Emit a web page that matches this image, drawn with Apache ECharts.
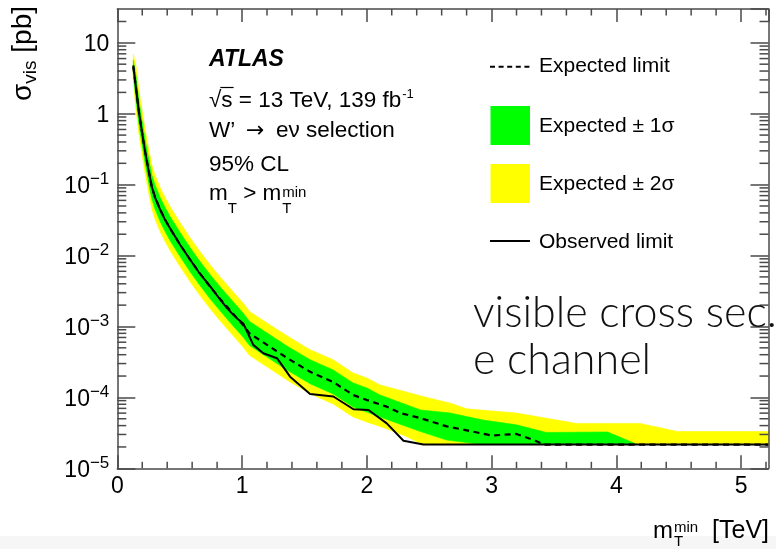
<!DOCTYPE html>
<html><head><meta charset="utf-8">
<script src="https://cdn.jsdelivr.net/npm/echarts@6/dist/echarts.min.js"></script>
<style>html,body{margin:0;padding:0;background:#fff;}#c{width:776px;height:549px;}</style>
</head><body><div id="c"></div>
<script>
// ---------------- data ----------------
const FLOOR = 2.16e-5;
const xRange = [0, 5.22];
const yRange = [1e-5, 30];
const xTickLabels = ['0', '1', '2', '3', '4', '5'];

const expectedX = [0.128, 0.15, 0.174, 0.198, 0.222, 0.246, 0.276, 0.302, 0.343, 0.383, 0.423, 0.503, 0.583, 0.663, 0.743, 0.824, 0.904, 1.008, 1.06, 1.2, 1.36, 1.545, 1.73, 1.89, 2.0, 2.16, 2.27, 2.43, 2.64, 2.83, 3.0, 3.2, 3.34, 3.42, 5.22];
const expectedY = [4.6, 2.3, 1.04, 0.55, 0.30, 0.177, 0.094, 0.067, 0.0446, 0.0322, 0.024, 0.0143, 0.00877, 0.00557, 0.00365, 0.00245, 0.00169, 0.00105, 0.0008, 0.00055, 0.00036, 0.00023, 0.000165, 0.000108, 9.2e-5, 7.4e-5, 6.0e-5, 5.1e-5, 3.9e-5, 3.35e-5, 2.9e-5, 3.05e-5, 2.5e-5, 2.16e-5, 2.16e-5];

const observedX = [0.128, 0.15, 0.174, 0.198, 0.222, 0.246, 0.276, 0.302, 0.343, 0.383, 0.423, 0.503, 0.583, 0.663, 0.743, 0.824, 0.87, 0.93, 0.96, 1.01, 1.09, 1.17, 1.28, 1.385, 1.545, 1.732, 1.893, 2.013, 2.16, 2.294, 2.454, 5.22];
const observedY = [4.8, 2.3, 1.04, 0.55, 0.30, 0.175, 0.094, 0.066, 0.0446, 0.0318, 0.0242, 0.0142, 0.0088, 0.0055, 0.0037, 0.0024, 0.0019, 0.00146, 0.0013, 0.0011, 0.00055, 0.00042, 0.000357, 0.000196, 0.000112, 0.000103, 6.8e-5, 6.65e-5, 4.3e-5, 2.45e-5, 2.16e-5, 2.16e-5];

const yellowUpper = [[0.128, 6.9], [0.15, 4.7], [0.174, 2.12], [0.198, 1.12], [0.222, 0.613], [0.246, 0.361], [0.276, 0.192], [0.302, 0.137], [0.343, 0.091], [0.383, 0.0658], [0.423, 0.049], [0.503, 0.0292], [0.583, 0.0179], [0.663, 0.01137], [0.743, 0.00745], [0.824, 0.0050], [0.904, 0.00345], [1.008, 0.00214], [1.06, 0.00163], [1.2, 0.00112], [1.36, 0.00074], [1.545, 0.00047], [1.73, 0.00034], [1.89, 0.00022], [2.0, 0.000188], [2.106, 0.00015], [2.45, 0.000103], [2.67, 8.3e-5], [2.8, 6.9e-5], [3.2, 6.0e-5], [3.68, 4.3e-5], [4.19, 4.3e-5], [4.49, 3.3e-5], [5.22, 3.3e-5]];
const yellowLower = [[0.128, 3.0], [0.15, 1.13], [0.174, 0.509], [0.198, 0.269], [0.222, 0.147], [0.246, 0.0867], [0.276, 0.046], [0.302, 0.0328], [0.343, 0.0218], [0.383, 0.0158], [0.423, 0.01175], [0.503, 0.0070], [0.583, 0.00429], [0.663, 0.00273], [0.743, 0.00179], [0.824, 0.0012], [0.904, 0.00083], [1.008, 0.000514], [1.06, 0.00039], [1.2, 0.00027], [1.36, 0.000176], [1.545, 0.000113], [1.73, 8.1e-5], [1.89, 5.3e-5], [2.0, 4.5e-5], [2.106, 3.9e-5], [2.3, 2.9e-5], [2.43, 2.25e-5], [2.5, 2.16e-5], [5.22, 2.16e-5]];
const greenUpper = [[0.128, 5.7], [0.15, 3.4], [0.174, 1.54], [0.198, 0.813], [0.222, 0.444], [0.246, 0.262], [0.276, 0.139], [0.302, 0.099], [0.343, 0.066], [0.383, 0.0476], [0.423, 0.0355], [0.503, 0.0212], [0.583, 0.013], [0.663, 0.00824], [0.743, 0.0054], [0.824, 0.00362], [0.904, 0.0025], [1.008, 0.00155], [1.06, 0.00118], [1.2, 0.00081], [1.36, 0.00053], [1.545, 0.00034], [1.73, 0.000244], [1.89, 0.00016], [2.0, 0.000136], [2.106, 0.000108], [2.43, 6.65e-5], [2.67, 6.0e-5], [2.93, 4.8e-5], [3.2, 4.1e-5], [3.44, 3.2e-5], [3.93, 3.25e-5], [4.17, 2.16e-5]];
const greenLower = [[0.128, 3.6], [0.15, 1.555], [0.174, 0.703], [0.198, 0.372], [0.222, 0.203], [0.246, 0.12], [0.276, 0.0636], [0.302, 0.0453], [0.343, 0.0302], [0.383, 0.0218], [0.423, 0.0162], [0.503, 0.00967], [0.583, 0.00593], [0.663, 0.00377], [0.743, 0.00247], [0.824, 0.00166], [0.904, 0.00114], [1.008, 0.00071], [1.06, 0.00054], [1.2, 0.00037], [1.36, 0.000243], [1.545, 0.000156], [1.73, 0.000112], [1.89, 7.3e-5], [2.0, 6.2e-5], [2.106, 5.3e-5], [2.43, 3.3e-5], [2.64, 2.5e-5], [2.93, 2.16e-5], [4.17, 2.16e-5]];

const legendLabels = ['Expected limit', 'Expected \u00b1 1\u03c3', 'Expected \u00b1 2\u03c3', 'Observed limit'];

// ---------------- styling ----------------
const FONT = '"Liberation Sans", Arial, Helvetica, sans-serif';
const AX = '#4a4a4a';
const GREEN = '#00ff00';
const YELLOW = '#ffff00';

const mctx = document.createElement('canvas').getContext('2d');
function tw(t, size, fam) { mctx.font = size + 'px ' + (fam || '"Liberation Sans"'); return mctx.measureText(t).width; }
function txt(x, y, text, size, opts) {
  opts = opts || {};
  return { type: 'text', x: x, y: y, z: 50, silent: true,
    style: { text: text, fontSize: size, fontFamily: opts.family || FONT, fontWeight: opts.weight || 'normal', fontStyle: opts.style || 'normal',
      fill: opts.fill || '#000', align: opts.align || 'left', textAlign: opts.align || 'left', verticalAlign: 'middle', textVerticalAlign: 'middle' } };
}

function bandSeries(name, upper, lower, color, z) {
  const pts = upper.concat(lower.slice().reverse());
  return { type: 'custom', name: name, z: z, silent: true, clip: true, data: pts, encode: { x: 0, y: 1 },
    renderItem: function (params, api) {
      if (params.dataIndex !== 0) return null;
      const poly = pts.map(function (p) { return api.coord(p); });
      return { type: 'polygon', shape: { points: poly }, style: { fill: color, stroke: color, lineWidth: 0.6 } };
    } };
}

// minor tick positions (axis decoration)
const tickData = [];
for (let d = -5; d <= 1; d++) for (let m = 2; m <= 9; m++) { const v = m * Math.pow(10, d); if (v < yRange[1]) tickData.push([0, v, 0]); }
for (let i = 1; i * 0.2 < xRange[1] + 1e-9; i++) { if (i % 5 !== 0) tickData.push([+(i * 0.2).toFixed(2), yRange[0], 1]); }
const Y_MINOR = 9, X_MINOR = 6.5;

function pairs(xs, ys) { return xs.map(function (x, i) { return [x, ys[i]]; }); }

const chart = echarts.init(document.getElementById('c'), null, { renderer: 'canvas' });

function supLabel(v) {
  const e = Math.round(Math.log10(v));
  if (e === 1) return '{b|10}';
  if (e === 0) return '{b|1}';
  return '{b|10}{s|\u2212' + (-e) + '}';
}

const axisCommonX = {
  type: 'value', min: xRange[0], max: xRange[1], interval: 1, z: 10,
  axisLine: { show: true, onZero: false, lineStyle: { color: AX, width: 1.5 } },
  axisTick: { show: true, inside: true, length: 13, lineStyle: { color: AX, width: 1.5 } },
  splitLine: { show: false }
};
const axisCommonY = {
  type: 'log', logBase: 10, min: yRange[0], max: yRange[1], interval: 1, z: 10,
  axisLine: { show: true, onZero: false, lineStyle: { color: AX, width: 1.5 } },
  axisTick: { show: true, inside: true, length: 18, lineStyle: { color: AX, width: 1.5 } },
  splitLine: { show: false }
};

const xtM = 653, xtY = 531;
const L5x = 209, L5y = 194;
const wm = tw('m', 22.5), wT = tw('T', 15), wgt = tw(' > m', 22.5);
const L2 = '\u221as = 13 TeV, 139 fb';
const wL2 = tw(L2, 22.5);
const wRoot = tw('\u221a', 22.5), wRootS = tw('\u221as', 22.5);
const wSig = tw('\u03c3', 28), wVis = tw('vis', 19);
const wm24 = tw('m', 24);

const option = {
  animation: false,
  backgroundColor: '#ffffff',
  grid: { left: 117.3, top: 9, right: 7.5, bottom: 80.7, containLabel: false },
  xAxis: [
    Object.assign({}, axisCommonX, { position: 'bottom',
      axisLabel: { show: true, margin: 7, fontSize: 23, fontFamily: FONT, color: '#000', showMaxLabel: false,
        formatter: function (v) { const i = Math.round(v); return Math.abs(v - i) < 1e-6 ? xTickLabels[i] : ''; } } }),
    Object.assign({}, axisCommonX, { position: 'top', axisLabel: { show: false } })
  ],
  yAxis: [
    Object.assign({}, axisCommonY, { position: 'left',
      axisLabel: { show: true, margin: 8, color: '#000', showMaxLabel: false, formatter: supLabel,
        rich: { b: { fontSize: 23, fontFamily: FONT, color: '#000', padding: [4, 0, 0, 0] }, s: { fontSize: 17, fontFamily: FONT, color: '#000', padding: [0, 0, 10, 0] } } } }),
    Object.assign({}, axisCommonY, { position: 'right', axisLabel: { show: false } })
  ],
  series: [
    bandSeries('Expected \u00b1 2\u03c3', yellowUpper, yellowLower, YELLOW, 1),
    bandSeries('Expected \u00b1 1\u03c3', greenUpper, greenLower, GREEN, 2),
    { type: 'line', name: 'Expected limit', z: 3, data: pairs(expectedX, expectedY), symbol: 'none', silent: true,
      lineStyle: { color: '#000', width: 2.2, type: [6, 4.5] } },
    { type: 'line', name: 'Observed limit', z: 4, data: pairs(observedX, observedY), symbol: 'none', silent: true,
      lineStyle: { color: '#000', width: 2 } },
    { type: 'custom', name: 'ticks', z: 11, silent: true, clip: false, data: tickData, encode: { x: 0, y: 1 },
      renderItem: function (params, api) {
        const cs = params.coordSys;
        const kind = api.value(2);
        const st = { stroke: AX, lineWidth: 1.5 };
        if (kind === 0) {
          const py = api.coord([xRange[0], api.value(1)])[1];
          return { type: 'group', children: [
            { type: 'line', shape: { x1: cs.x, y1: py, x2: cs.x + Y_MINOR, y2: py }, style: st },
            { type: 'line', shape: { x1: cs.x + cs.width, y1: py, x2: cs.x + cs.width - Y_MINOR, y2: py }, style: st } ] };
        }
        const px = api.coord([api.value(0), yRange[0]])[0];
        return { type: 'group', children: [
          { type: 'line', shape: { x1: px, y1: cs.y + cs.height, x2: px, y2: cs.y + cs.height - X_MINOR }, style: st },
          { type: 'line', shape: { x1: px, y1: cs.y, x2: px, y2: cs.y + X_MINOR }, style: st } ] };
      } }
  ],
  graphic: { elements: [
    { type: 'rect', z: 0, silent: true, shape: { x: 0, y: 536, width: 776, height: 13 }, style: { fill: '#f6f6f6' } },
    // y-axis title
    { type: 'group', x: 23, y: 101, rotation: Math.PI / 2, z: 50, silent: true, children: [
      txt(0, 0, '\u03c3', 28), txt(wSig, 8.2, 'vis', 19), txt(wSig + wVis, 0, ' [pb]', 28) ] },
    // x-axis title
    txt(xtM, xtY, 'm', 24), txt(xtM + wm24 + 1, 528, 'min', 15), txt(xtM + wm24 + 1, 542, 'T', 15),
    txt(769, xtY, '[TeV]', 25, { align: 'right' }),
    // text block
    txt(209, 59.5, 'ATLAS', 23, { weight: 'bold', style: 'italic' }),
    txt(209, 101, L2, 22.5), txt(209 + wL2 + 1, 94, '-1', 13),
    { type: 'line', z: 50, silent: true, shape: { x1: 209 + wRoot - 1, y1: 87.5, x2: 209 + wRootS + 1, y2: 87.5 }, style: { stroke: '#000', lineWidth: 1.2 } },
    txt(209, 131, 'W\u2019', 22.5),
    txt(246, 131, '\u2192', 22, { family: '"DejaVu Sans", sans-serif' }),
    txt(276, 131, 'e\u03bd selection', 22.5),
    txt(209, 165, '95% CL', 22.5),
    txt(L5x, L5y, 'm', 22.5), txt(L5x + wm, 209, 'T', 15), txt(L5x + wm + wT, L5y, ' > m', 22.5),
    txt(L5x + wm + wT + wgt + 1, 193, 'min', 15), txt(L5x + wm + wT + wgt + 1, 209, 'T', 15),
    // legend
    { type: 'line', z: 50, silent: true, shape: { x1: 490, y1: 66.7, x2: 530, y2: 66.7 }, style: { stroke: '#000', lineWidth: 2, lineDash: [5, 3.6] } },
    txt(539, 66.7, legendLabels[0], 21),
    { type: 'rect', z: 50, silent: true, shape: { x: 490.5, y: 106, width: 39.5, height: 39 }, style: { fill: GREEN } },
    txt(539, 126.5, legendLabels[1], 21),
    { type: 'rect', z: 50, silent: true, shape: { x: 490.5, y: 164, width: 39.5, height: 39 }, style: { fill: YELLOW } },
    txt(539, 184.5, legendLabels[2], 21),
    { type: 'line', z: 50, silent: true, shape: { x1: 490, y1: 241, x2: 530, y2: 241 }, style: { stroke: '#000', lineWidth: 2 } },
    txt(539, 242.5, legendLabels[3], 21),
    // annotation
    txt(473, 313, 'visible cross sec.', 43, { family: 'Lato, "DejaVu Sans", sans-serif', weight: 300, fill: '#111' }),
    txt(473, 360, 'e channel', 43, { family: 'Lato, "DejaVu Sans", sans-serif', weight: 300, fill: '#111' })
  ] }
};
chart.setOption(option);
</script>
</body></html>
